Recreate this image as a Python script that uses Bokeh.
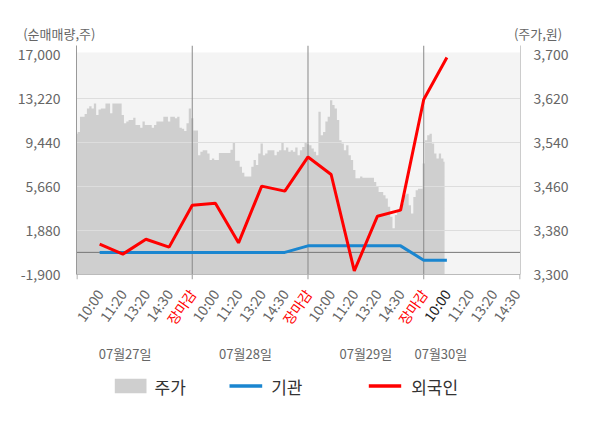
import math
from bokeh.plotting import figure
from bokeh.models import Range1d, LinearAxis, FixedTicker, NumeralTickFormatter, BoxAnnotation
from bokeh.embed import file_html
from bokeh.resources import INLINE
from bokeh.core.properties import value

FONT = "Noto Sans CJK KR"

# ---------------- data ----------------
x_labels = ["10:00", "11:20", "13:20", "14:30", "장마감",
            "10:00", "11:20", "13:20", "14:30", "장마감",
            "10:00", "11:20", "13:20", "14:30", "장마감",
            "10:00", "11:20", "13:20", "14:30"]
date_labels = ["07월27일", "07월28일", "07월29일", "07월30일"]
date_label_x = [1.10, 6.30, 11.50, 14.74]

left_ticks = [-1900, 1880, 5660, 9440, 13220, 17000]
right_ticks = [3300, 3380, 3460, 3540, 3620, 3700]

foreign = [700, -150, 1130, 450, 4050, 4230, 820, 5690, 5260,
           8200, 6690, -1590, 3110, 3630, 13130, 16740]
institution = [0, 0, 0, 0, 0, 0, 0, 0, 0,
               560, 560, 560, 560, 560, -670, -670]

price_start = -1.0
price_step = 0.1
price = [
    3556, 3559, 3587, 3587, 3592, 3602, 3606, 3602, 3611, 3590,
    3600, 3602, 3602, 3611, 3611, 3593, 3611, 3611, 3611, 3611,
    3590, 3575, 3578, 3581, 3581, 3585, 3572, 3572, 3567, 3578,
    3572, 3572, 3572, 3567, 3572, 3578, 3578, 3578, 3587, 3587,
    3578, 3587, 3587, 3584, 3587, 3567, 3565, 3561, 3575, 3602,
    3584, 3562, 3562, 3517, 3523, 3526, 3526, 3520, 3508, 3511,
    3508, 3508, 3521, 3521, 3521, 3521, 3521, 3527, 3539, 3507,
    3507, 3496, 3485, 3478, 3478, 3478, 3496, 3508, 3499, 3520,
    3538, 3517, 3520, 3526, 3526, 3526, 3517, 3523, 3526, 3541,
    3526, 3531, 3523, 3526, 3523, 3531, 3517, 3526, 3532, 3541,
    3537, 3535, 3529, 3523, 3517, 3596, 3553, 3559, 3578, 3587,
    3617, 3608, 3602, 3581, 3544, 3538, 3526, 3535, 3517, 3508,
    3490, 3475, 3475, 3478, 3476, 3476, 3476, 3476, 3476, 3468,
    3459, 3450, 3450, 3444, 3438, 3423, 3405, 3384, 3408, 3417,
    3420, 3429, 3444, 3447, 3426, 3411, 3441, 3453, 3456, 3456,
    3502, 3544, 3553, 3556, 3538, 3520, 3511, 3520, 3511, 3505,
]

# ---------------- layout constants ----------------
W = 600
FW, FH = 444, 229     # plot area (frame adds TICK px below for the x ticks)
TICK = 5
ML, MR, MT, MB = 76, 80, 1, 7
TOP_H = 44            # height of the title strip
BOT_H = 136           # height of the label/legend strip
X0, X1 = -1.0, 18.18
UPP = (X1 - X0) / FW                 # x units per pixel
LPP = (left_ticks[1] - left_ticks[0]) / 44.0
RPP = (right_ticks[1] - right_ticks[0]) / 44.0
L0, R0 = left_ticks[0], right_ticks[0]
LTOP = L0 + FH * LPP
RTOP = R0 + FH * RPP
BOT_Y0 = TOP_H + MT + FH + TICK + MB   # page y where bottom strip starts

def fxp(page_x):  # page-pixel x -> data x
    return X0 + (page_x - ML) * UPP

def fyb(page_y):  # page-pixel y -> bottom strip y
    return -(page_y - BOT_Y0)

GRAY_TXT = "#666666"
RED = "#ff0000"
BLUE = "#1a86d0"
AREA = "#cfcfcf"

n_pts = len(foreign)
xs_pts = list(range(n_pts))
price_x = [price_start + price_step * i for i in range(len(price))]
day_bounds = [i for i, t in enumerate(x_labels) if t == "장마감"]


def strip(height, xr):
    f = figure(width=W, height=height, x_range=xr, y_range=Range1d(-height, 0),
               x_axis_location=None, y_axis_location=None,
               min_border_left=0, min_border_right=0, min_border_top=0, min_border_bottom=0,
               output_backend="svg", toolbar_location=None)
    f.background_fill_color = "white"
    f.border_fill_color = "white"
    f.outline_line_color = None
    f.grid.visible = False
    return f

# ---------------- title strip ----------------
pt = strip(TOP_H, Range1d(0, W))
pt.text(x=[22.7], y=[-33], text=["(순매매량,주)"], text_align="left", text_baseline="middle",
        text_font=value(FONT), text_font_size="13px", text_color=GRAY_TXT)
pt.text(x=[561.7], y=[-33], text=["(주가,원)"], text_align="right", text_baseline="middle",
        text_font=value(FONT), text_font_size="13px", text_color=GRAY_TXT)

# ---------------- main figure ----------------
p = figure(frame_width=FW, frame_height=FH + TICK,
           min_border_left=ML, min_border_right=MR, min_border_top=MT, min_border_bottom=MB,
           x_range=Range1d(X0, X1), y_range=Range1d(L0 - TICK * LPP, LTOP),
           x_axis_location=None, y_axis_location="left",
           output_backend="svg", toolbar_location=None)
p.background_fill_color = "white"
p.border_fill_color = "white"
p.outline_line_color = None
p.grid.visible = False
p.extra_y_ranges = {"price": Range1d(R0 - TICK * RPP, RTOP)}

la = p.yaxis[0]
la.bounds = (L0, LTOP)
la.ticker = FixedTicker(ticks=left_ticks)
la.formatter = NumeralTickFormatter(format="0,0")
la.major_tick_line_color = None
la.minor_tick_line_color = None
la.axis_line_color = "#999999"
la.major_label_text_font = FONT
la.major_label_text_font_size = "14px"
la.major_label_text_color = GRAY_TXT
la.major_label_standoff = 10

ra = LinearAxis(y_range_name="price", ticker=FixedTicker(ticks=right_ticks),
                formatter=NumeralTickFormatter(format="0,0"), bounds=(R0, RTOP))
ra.major_tick_line_color = None
ra.minor_tick_line_color = None
ra.axis_line_color = "#cccccc"
ra.major_label_text_font = FONT
ra.major_label_text_font_size = "14px"
ra.major_label_text_color = GRAY_TXT
ra.major_label_standoff = 7
p.add_layout(ra, "right")

p.add_layout(BoxAnnotation(bottom=L0, top=left_ticks[-1] + 2 * LPP, fill_color="#f4f4f4",
                           fill_alpha=1, line_color=None, level="underlay"))

p.varea_step(x=price_x, y1=R0, y2=price, step_mode="center", fill_color=AREA,
             y_range_name="price")

gl = left_ticks[1:-1]
p.segment(x0=[X0] * len(gl), x1=[X1] * len(gl), y0=gl, y1=gl, line_color="#dddddd", line_width=1)
p.segment(x0=[X0], x1=[X1], y0=[0], y1=[0], line_color="#777777", line_width=1)
p.segment(x0=day_bounds, x1=day_bounds, y0=[L0] * len(day_bounds), y1=[LTOP] * len(day_bounds),
          line_color="#888888", line_width=1)

# x axis line and day-boundary ticks
p.segment(x0=[X0], x1=[X1], y0=[L0], y1=[L0], line_color="#bbbbbb", line_width=1)
tick_x = [X0 + 0.5 * UPP] + day_bounds + [X1 - 0.5 * UPP]
p.segment(x0=tick_x, x1=tick_x, y0=[L0] * len(tick_x), y1=[L0 - TICK * LPP] * len(tick_x),
          line_color="#999999", line_width=1)

p.line(xs_pts, institution, line_color=BLUE, line_width=3)
p.line(xs_pts, foreign, line_color=RED, line_width=3)

# ---------------- bottom strip (x labels, dates, legend) ----------------
pb = strip(BOT_H, Range1d(fxp(0), fxp(W)))

lab_colors = []
for i, t in enumerate(x_labels):
    if t == "장마감":
        lab_colors.append(RED)
    elif i == day_bounds[-1] + 1:
        lab_colors.append("#222222")
    else:
        lab_colors.append(GRAY_TXT)
pb.text(x=list(range(len(x_labels))), y=[fyb(290.5)] * len(x_labels), text=x_labels,
        angle=math.radians(55), text_align="right", text_baseline="middle",
        text_font=value(FONT), text_font_size="14px", text_color=lab_colors)

pb.text(x=date_label_x, y=[fyb(352.7)] * len(date_labels), text=date_labels,
        text_align="center", text_baseline="middle",
        text_font=value(FONT), text_font_size="13px", text_color=GRAY_TXT)

LY = fyb(385.5)
pb.quad(left=[fxp(114.3)], right=[fxp(146)], top=[LY + 7.2], bottom=[LY - 7.2],
        fill_color=AREA, line_color=None)
pb.segment(x0=[fxp(229)], x1=[fxp(261.7)], y0=[LY], y1=[LY], line_color=BLUE, line_width=3.5)
pb.segment(x0=[fxp(368.3)], x1=[fxp(400.7)], y0=[LY], y1=[LY], line_color=RED, line_width=3.5)
pb.text(x=[fxp(154), fxp(270.7), fxp(410.7)], y=[LY] * 3, text=["주가", "기관", "외국인"],
        text_align="left", text_baseline="middle",
        text_font=value(FONT), text_font_size="17px", text_color="#333333")

open("out.html", "w").write(file_html([pt, p, pb], INLINE))
